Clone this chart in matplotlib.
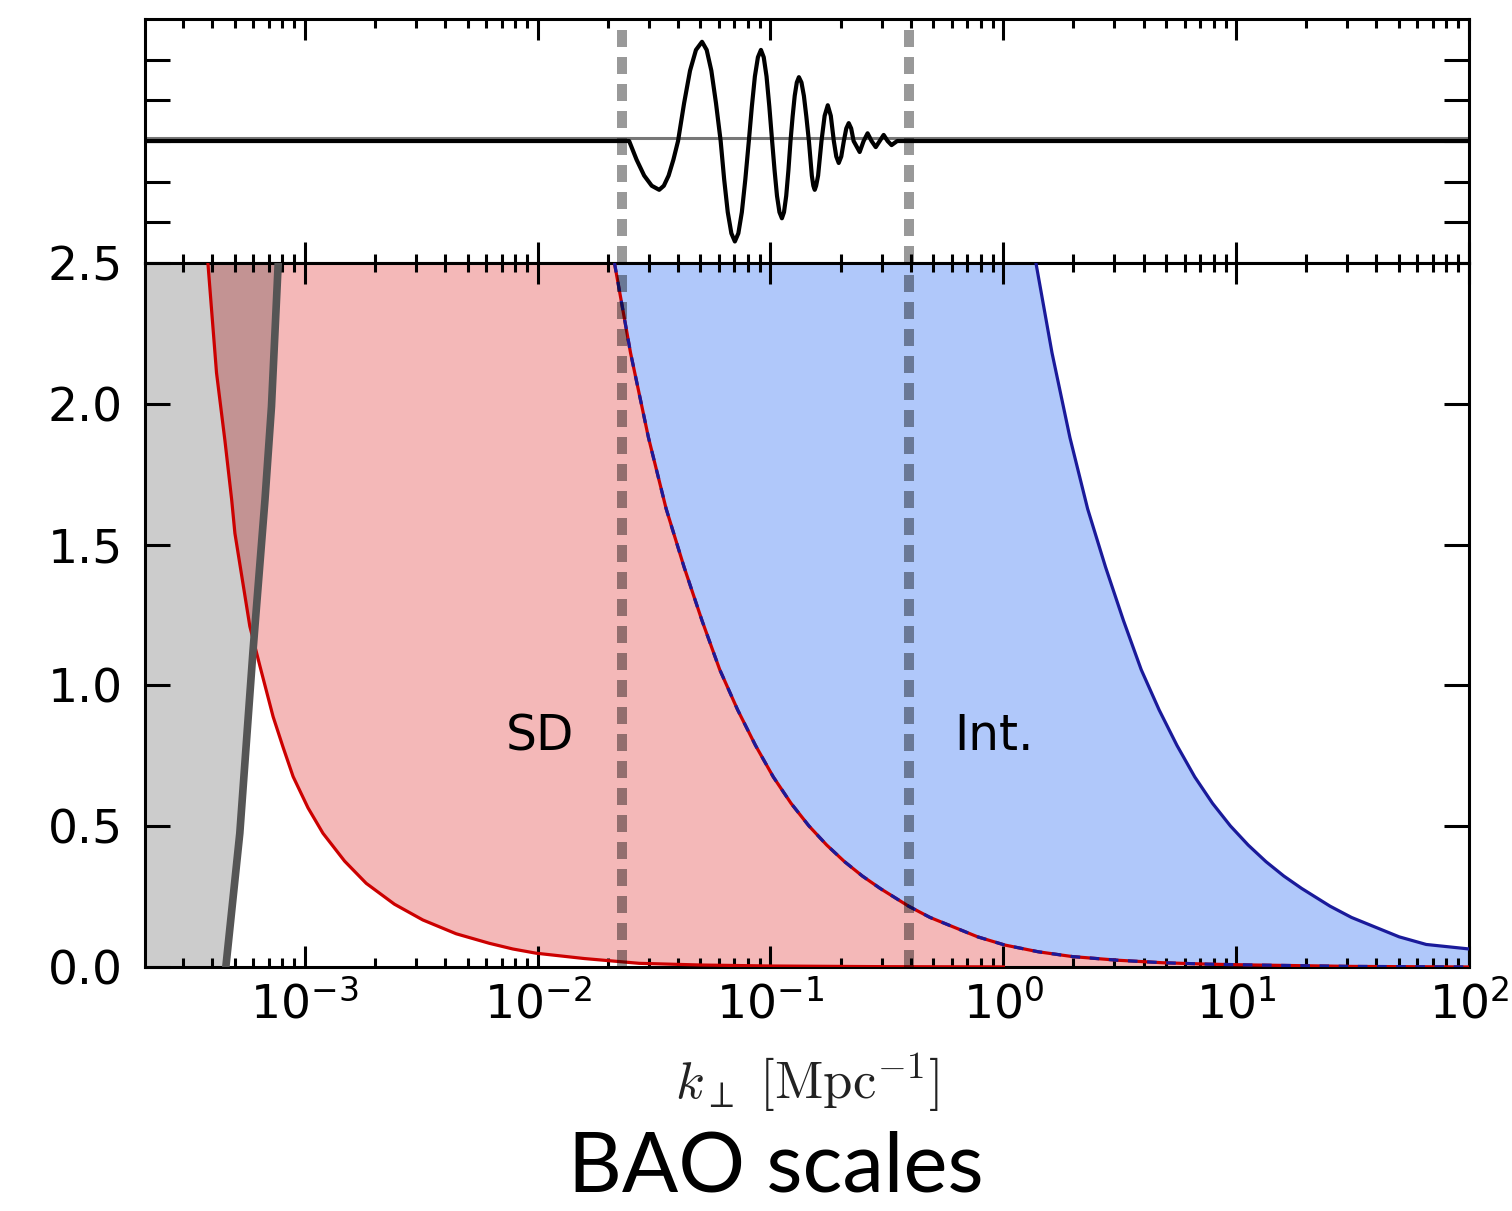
"""BAO scales: k_perp coverage of single-dish vs interferometer with BAO wiggle panel."""
import matplotlib

matplotlib.use("Agg")
import matplotlib.pyplot as plt
from matplotlib.ticker import LogLocator, NullFormatter, MultipleLocator

# ---- values (k given as log10 k) ----
K_LIMITS = (2.06e-4, 1e2)
Z_LIMITS = (0.0, 2.5)
WIGGLE_LIMITS = (-3.0, 3.0)

# single dish, large-scale limit (red curve)
SD_KMIN_LOGK = [-3.416, -3.379, -3.343, -3.314, -3.300, -3.236, -3.193, -3.136, -3.093,
                -3.050, -2.986, -2.922, -2.829, -2.736, -2.615, -2.493, -2.350, -2.207,
                -2.107, -2.007, -1.800, -1.564, -1.300, -1.000, -0.500, 0.000]
SD_KMIN_Z = [2.50, 2.11, 1.87, 1.66, 1.54, 1.21, 1.07, 0.889, 0.78,
             0.676, 0.565, 0.475, 0.376, 0.297, 0.223, 0.167, 0.118, 0.084,
             0.064, 0.049, 0.030, 0.013, 0.007, 0.0035, 0.0011, 0.0003]

# single dish small-scale limit == interferometer large-scale limit
SPLIT_LOGK = [-1.670, -1.601, -1.524, -1.448, -1.371, -1.294, -1.218, -1.141, -1.0645,
              -0.988, -0.9115, -0.835, -0.7585, -0.682, -0.6055, -0.529, -0.407, -0.315,
              -0.223, -0.110, 0.006, 0.150, 0.296, 0.490, 0.686, 0.880, 1.079, 1.500, 2.000]
SPLIT_Z = [2.50, 2.181, 1.880, 1.627, 1.42, 1.230, 1.056, 0.913, 0.787,
           0.675, 0.581, 0.501, 0.433, 0.374, 0.323, 0.279, 0.216, 0.176,
           0.145, 0.107, 0.078, 0.054, 0.037, 0.024, 0.015, 0.010, 0.007, 0.002, 0.0]

# interferometer small-scale limit (right blue curve)
INT_KMAX_LOGK = [0.140, 0.209, 0.286, 0.362, 0.439, 0.516, 0.592, 0.669, 0.7455, 0.822,
                 0.8985, 0.975, 1.0515, 1.128, 1.2045, 1.281, 1.403, 1.495, 1.587, 1.700,
                 1.816, 2.000]
INT_KMAX_Z = [2.50, 2.181, 1.880, 1.627, 1.42, 1.230, 1.056, 0.913, 0.787, 0.675,
              0.581, 0.501, 0.433, 0.374, 0.323, 0.279, 0.216, 0.176, 0.145, 0.107,
              0.080, 0.064]

# foreground / horizon limit (grey band)
GREY_LOGK = [-3.339, -3.279, -3.222, -3.171, -3.143, -3.114]
GREY_Z = [0.0, 0.475, 1.126, 1.658, 1.99, 2.50]

# BAO wiggles in the top panel
WIGGLE_LOGK = [-3.686, -1.607, -1.575, -1.5425, -1.510, -1.478, -1.458, -1.4375, -1.417,
               -1.397, -1.371, -1.3455, -1.320, -1.294, -1.274, -1.254, -1.234,
               -1.214, -1.199, -1.1835, -1.168, -1.153, -1.138, -1.123, -1.108,
               -1.093, -1.080, -1.067, -1.054, -1.041, -1.029, -1.017, -1.005,
               -0.993, -0.9825, -0.972, -0.9615, -0.951, -0.942, -0.9325, -0.923,
               -0.914, -0.905, -0.896, -0.887, -0.878, -0.867, -0.8565, -0.846,
               -0.835, -0.8225, -0.816, -0.810, -0.804, -0.7955, -0.781,
               -0.7675, -0.754, -0.741, -0.728, -0.7175, -0.707, -0.696, -0.685,
               -0.6745, -0.664, -0.6535, -0.643, -0.617, -0.600, -0.583, -0.566,
               -0.548, -0.531, -0.514, -0.497, -0.480, -0.456, -0.430, 2.000]
WIGGLE_V = [0.0, 0.0, -0.46, -0.85, -1.10, -1.20, -1.10, -0.85, -0.46,
            0.0, 0.93, 1.73, 2.24, 2.44, 2.24, 1.73, 0.93,
            0.0, -0.94, -1.75, -2.27, -2.47, -2.27, -1.75, -0.94,
            0.0, 0.85, 1.59, 2.06, 2.24, 2.06, 1.59, 0.85,
            0.0, -0.72, -1.35, -1.75, -1.90, -1.75, -1.35, -0.72,
            0.0, 0.60, 1.11, 1.44, 1.57, 1.44, 1.11, 0.60,
            0.0, -0.85, -1.10, -1.20, -1.10, -0.85, 0.0,
            0.62, 0.88, 0.62, 0.0, -0.38, -0.54, -0.38, 0.0,
            0.31, 0.44, 0.31, 0.0, -0.27, 0.0, 0.19, 0.0,
            -0.15, 0.0, 0.15, 0.0, -0.10, 0.0, 0.0, 0.0]

BAO_RANGE = [0.0231, 0.392]
REGION_LABELS = {"SD": (0.0102, 0.82), "Int.": (0.908, 0.82)}

RED_FILL = "#f4b8b8"
BLUE_FILL = "#b0c8fa"
RED_LINE = "#cc0000"
BLUE_LINE = "#1a1a9a"
GREY_LINE = "#555555"


def to_k(logk):
    return [10.0 ** v for v in logk]


def style_axis(ax, ymajor_len=18):
    ax.set_xscale("log")
    ax.set_xlim(*K_LIMITS)
    ax.xaxis.set_major_locator(LogLocator(base=10, numticks=20))
    ax.xaxis.set_minor_locator(LogLocator(base=10, subs=range(2, 10), numticks=20))
    ax.xaxis.set_minor_formatter(NullFormatter())
    ax.tick_params(which="both", direction="in", top=True, right=True, width=2.2)
    ax.tick_params(axis="x", which="major", length=15)
    ax.tick_params(axis="x", which="minor", length=6.5)
    ax.tick_params(axis="y", which="major", length=ymajor_len)
    for spine in ax.spines.values():
        spine.set_linewidth(2.2)


def add_bao_lines(ax):
    for k in BAO_RANGE:
        ax.axvline(k, color="k", alpha=0.4, linewidth=7.2, dashes=(1.7, 1.0), zorder=6)


def main():
    sd_k = to_k(SD_KMIN_LOGK)
    split_k = to_k(SPLIT_LOGK)
    int_k = to_k(INT_KMAX_LOGK)
    grey_k = to_k(GREY_LOGK)
    wiggle_k = to_k(WIGGLE_LOGK)

    fig = plt.figure(figsize=(15.12, 12.11), dpi=100)
    ax_top = fig.add_axes([0.0959, 0.7828, 0.8757, 0.2015])
    ax = fig.add_axes([0.0959, 0.2015, 0.8757, 0.5813])

    # ---- top panel: wiggles ----
    ax_top.axhline(0.07, color="#777777", linewidth=2.2, zorder=2)
    ax_top.plot(wiggle_k, WIGGLE_V, color="k", linewidth=3.0, zorder=3,
                solid_joinstyle="round")
    add_bao_lines(ax_top)
    style_axis(ax_top)
    ax_top.set_ylim(*WIGGLE_LIMITS)
    ax_top.set_yticks([-2, -1, 0, 1, 2])
    ax_top.set_yticklabels([])
    ax_top.set_xticklabels([])

    # ---- main panel: coverage regions ----
    red_k = sd_k + [1e3] + split_k[::-1]
    red_z = SD_KMIN_Z + [0.0] + SPLIT_Z[::-1]
    ax.fill(red_k, red_z, color=RED_FILL, linewidth=0, zorder=1)

    blue_k = split_k + int_k[::-1]
    blue_z = SPLIT_Z + INT_KMAX_Z[::-1]
    ax.fill(blue_k, blue_z, color=BLUE_FILL, linewidth=0, zorder=1)

    ax.fill_betweenx(GREY_Z, 1e-5, grey_k, color="k", alpha=0.2, linewidth=0, zorder=2)

    ax.plot(sd_k, SD_KMIN_Z, color=RED_LINE, linewidth=2.3, zorder=3)
    ax.plot(split_k, SPLIT_Z, color=RED_LINE, linewidth=2.3, zorder=3)
    ax.plot(split_k, SPLIT_Z, color=BLUE_LINE, linewidth=2.3, dashes=(3, 3), zorder=4)
    ax.plot(int_k, INT_KMAX_Z, color=BLUE_LINE, linewidth=2.3, zorder=3)
    ax.plot(grey_k, GREY_Z, color=GREY_LINE, linewidth=5.5, zorder=5)

    add_bao_lines(ax)

    for label, (k, z) in REGION_LABELS.items():
        ax.text(k, z, label, ha="center", va="center", fontsize=35, zorder=7)

    style_axis(ax)
    ax.set_ylim(*Z_LIMITS)
    ax.yaxis.set_major_locator(MultipleLocator(0.5))
    ax.yaxis.set_major_formatter(plt.FormatStrFormatter("%.1f"))
    ax.tick_params(axis="y", labelsize=34, pad=16)
    ax.tick_params(axis="x", labelsize=34, pad=10)

    ax.set_xlabel(r"$k_\perp\ [\mathrm{Mpc}^{-1}]$", fontsize=38, labelpad=16,
                  math_fontfamily="cm", color="#222222")
    fig.text(0.513, 0.004, "BAO scales", ha="center", va="bottom",
             fontsize=60, family="Lato")

    fig.savefig("out.png", dpi=100)
    plt.close(fig)


if __name__ == "__main__":
    main()
